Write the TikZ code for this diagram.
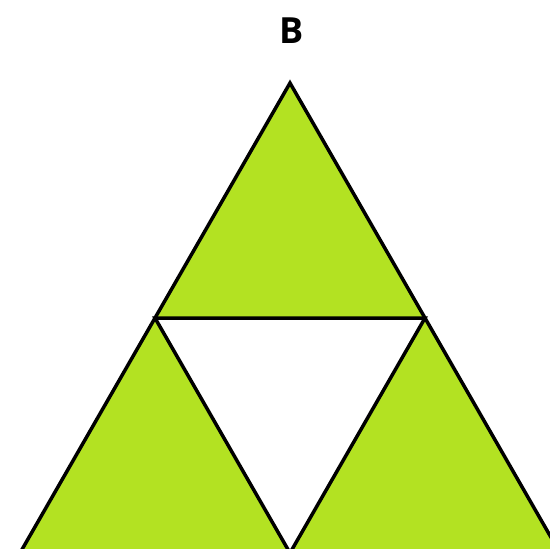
\documentclass[tikz,border=0pt]{standalone}
\usepackage{fontspec}
\setmainfont{Open Sans}
\usetikzlibrary{calc}
\definecolor{leafgreen}{RGB}{179,226,34}

\begin{document}
\begin{tikzpicture}[x=1pt,y=-1pt]
  \useasboundingbox (0,0) rectangle (550,549); % 画像の範囲
  \clip (0,0) rectangle (550,549); % 下端は切れている
  \coordinate (apex) at (290,83); % 上の頂点
  \coordinate (lowleft) at (20,553); % 左下の頂点
  \coordinate (lowright) at (560,553); % 右下の頂点
  \coordinate (midleft) at ($(apex)!0.5!(lowleft)$); % 左辺の中点
  \coordinate (midright) at ($(apex)!0.5!(lowright)$); % 右辺の中点
  \coordinate (midlow) at ($(lowleft)!0.5!(lowright)$); % 底辺の中点
  \fill[leafgreen] (apex) -- (lowleft) -- (lowright) -- cycle; % 大きい三角形（緑）
  \fill[white] (midleft) -- (midright) -- (midlow) -- cycle; % 中央の逆三角形（白）
  \draw[line width=3.5pt] (apex) -- (lowleft) -- (lowright) -- cycle; % 外側の輪郭
  \draw[line width=3.5pt] (midleft) -- (midright) -- (midlow) -- cycle; % 内側の輪郭
  \node[font=\bfseries\fontsize{36}{40}\selectfont] (label) at (292,31) {B}; % 上のラベル
\end{tikzpicture}
\end{document}
